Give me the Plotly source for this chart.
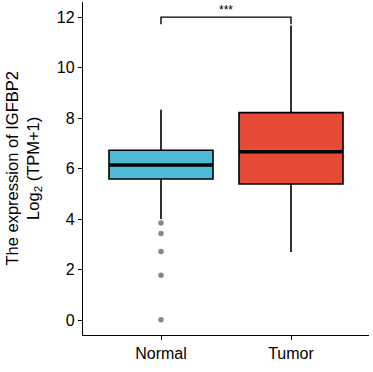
import plotly.graph_objects as go

categories = ["Normal", "Tumor"]
q1 = [5.59, 5.39]
median = [6.14, 6.67]
q3 = [6.73, 8.22]
lower_whisker = [4.0, 2.70]
upper_whisker = [8.33, 11.67]
normal_outliers = [3.85, 3.43, 2.72, 1.78, 0.01]
fill_colors = ["#4DBBD5", "#E64B35"]
y_ticks = [0, 2, 4, 6, 8, 10, 12]
bracket_y = 12.0
bracket_leg_y = 11.72
signif_label = "***"
y_title = "The expression of IGFBP2<br>Log<sub>2</sub> (TPM+1)"

positions = [1, 2]
box_w = 0.8

fig = go.Figure()
for i, cat in enumerate(categories):
    fig.add_trace(go.Box(
        x=[positions[i]], q1=[q1[i]], median=[median[i]], q3=[q3[i]],
        lowerfence=[lower_whisker[i]], upperfence=[upper_whisker[i]],
        width=box_w, whiskerwidth=0, fillcolor=fill_colors[i],
        line=dict(color="black", width=1.6), boxpoints=False,
        showlegend=False, hoverinfo="skip", name=cat,
    ))
    fig.add_trace(go.Scatter(
        x=[positions[i] - box_w / 2, positions[i] + box_w / 2],
        y=[median[i], median[i]], mode="lines",
        line=dict(color="black", width=3.5), showlegend=False, hoverinfo="skip",
    ))

fig.add_trace(go.Scatter(
    x=[positions[0]] * len(normal_outliers), y=normal_outliers, mode="markers",
    marker=dict(color="#888888", size=5.5), showlegend=False, hoverinfo="skip",
))

# significance bracket
fig.add_trace(go.Scatter(
    x=[positions[0], positions[0], positions[1], positions[1]],
    y=[bracket_leg_y, bracket_y, bracket_y, bracket_leg_y],
    mode="lines", line=dict(color="black", width=1.4),
    showlegend=False, hoverinfo="skip",
))
fig.add_annotation(x=(positions[0] + positions[1]) / 2, y=bracket_y, text=signif_label,
                   showarrow=False, yanchor="bottom", yshift=-2,
                   font=dict(size=12, color="black"))

# y-axis title as rotated annotation
fig.add_annotation(xref="paper", yref="paper", x=0, y=0.5, xshift=-37,
                   xanchor="right", yanchor="middle", textangle=-90,
                   text=y_title, showarrow=False,
                   font=dict(size=16.5, color="black"))

fig.update_layout(
    width=373, height=372,
    margin=dict(l=83, r=4, t=2, b=37, autoexpand=False),
    plot_bgcolor="white", paper_bgcolor="white",
    font=dict(family="Liberation Sans, Arial, sans-serif", color="black"),
)
fig.update_xaxes(
    range=[0.4, 2.6], tickvals=positions, ticktext=categories,
    showline=True, linecolor="black", linewidth=1.3,
    ticks="outside", ticklen=4, tickcolor="black", tickwidth=1.3,
    showgrid=False, zeroline=False, tickfont=dict(size=16, color="black"),
    automargin=False,
)
fig.update_yaxes(
    range=[-0.59, 12.6], tickvals=y_ticks,
    showline=True, linecolor="black", linewidth=1.3,
    ticks="outside", ticklen=4, tickcolor="black", tickwidth=1.3,
    showgrid=False, zeroline=False, tickfont=dict(size=16, color="black"),
    automargin=False,
)

fig.write_html("out.html", config={"displayModeBar": False},
               post_script="document.body.style.margin='0';document.body.style.overflow='hidden';")
